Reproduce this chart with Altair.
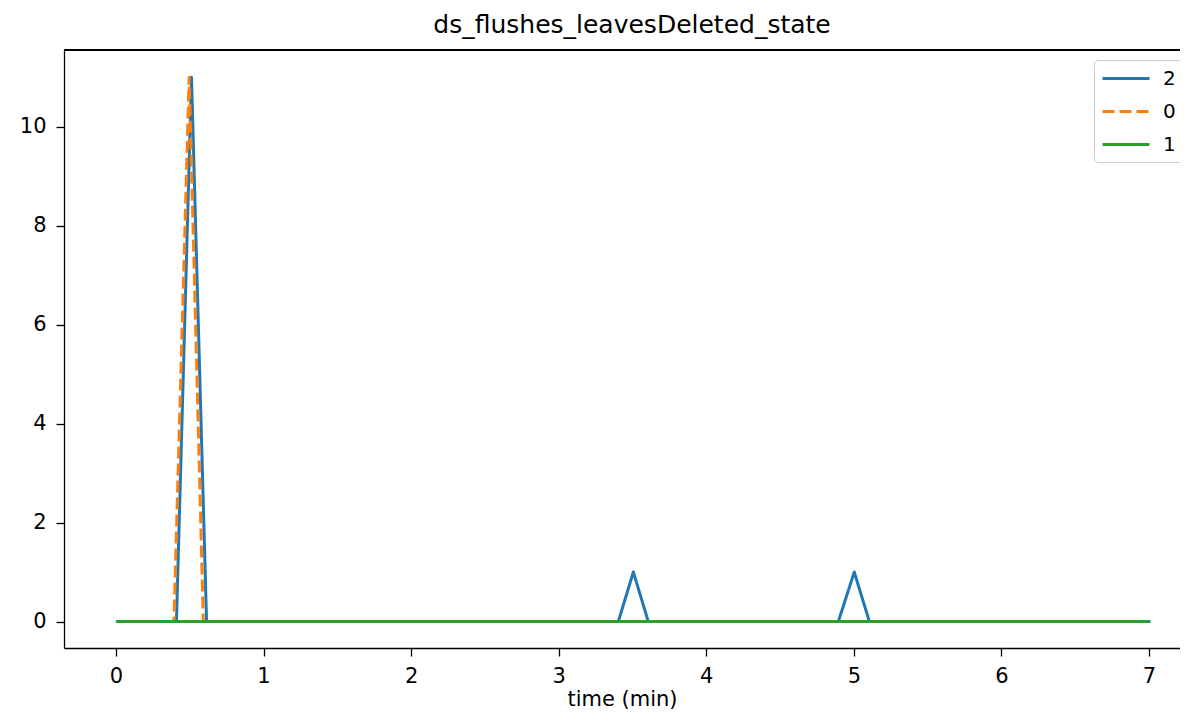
import altair as alt
import pandas as pd

# series vertices (time in minutes, value)
t_2 = [0.0, 0.41, 0.512, 0.614, 3.404, 3.506, 3.607, 4.895, 5.003, 5.105, 7.01]
v_2 = [0, 0, 11, 0, 0, 1, 0, 0, 1, 0, 0]
t_0 = [0.0, 0.393, 0.496, 0.592, 7.0]
v_0 = [0, 0, 11, 0, 0]
t_1 = [0.0, 7.0]
v_1 = [0, 0]

series_order = ["2", "0", "1"]
series_colors = ["#1f77b4", "#ff7f0e", "#2ca02c"]
series_dash = [[1, 0], [12, 5], [1, 0]]
x_ticks = [0, 1, 2, 3, 4, 5, 6, 7]
y_ticks = [0, 2, 4, 6, 8, 10]

rows = []
for name, ts, vs in [("2", t_2, v_2), ("0", t_0, v_0), ("1", t_1, v_1)]:
    for i, (t, v) in enumerate(zip(ts, vs)):
        rows.append({"series": name, "time": t, "value": v, "idx": i})
df = pd.DataFrame(rows)

W, H = 1116, 598
FONT = "DejaVu Sans"

x_enc = alt.X("time:Q", scale=alt.Scale(domain=[-0.352, 7.21], nice=False, zero=False),
              axis=alt.Axis(values=x_ticks, title="time (min)", grid=False, format="d",
                            labelFontSize=21, titleFontSize=21, titleFontWeight="normal",
                            labelFont=FONT, titleFont=FONT, labelColor="black", titleColor="black",
                            tickColor="black", domainColor="black", tickSize=8, tickWidth=1.3,
                            domainWidth=1.3, labelPadding=9, titlePadding=2))
y_enc = alt.Y("value:Q", scale=alt.Scale(domain=[-0.535, 11.55], nice=False, zero=False),
              axis=alt.Axis(values=y_ticks, title=None, grid=False, format="d",
                            labelFontSize=21, labelFont=FONT, labelColor="black",
                            tickColor="black", domainColor="black", tickSize=8, tickWidth=1.3,
                            domainWidth=1.3, labelPadding=10))
color_enc = alt.Color("series:N", scale=alt.Scale(domain=series_order, range=series_colors),
                      legend=alt.Legend(title=None, orient="none", legendX=1030, legendY=10,
                                        symbolType="M-1,0H3.7", symbolSize=400, symbolStrokeWidth=3,
                                        labelFontSize=20, labelFont=FONT, labelColor="black",
                                        labelOffset=39, rowPadding=11, padding=7,
                                        strokeColor="#cccccc", fillColor="white", cornerRadius=4))
dash_enc = alt.StrokeDash("series:N", scale=alt.Scale(domain=series_order, range=series_dash),
                          legend=None)

layers = []
for name in series_order:
    layers.append(
        alt.Chart(df).transform_filter(alt.datum.series == name)
        .mark_line(strokeWidth=3, strokeJoin="round")
        .encode(x=x_enc, y=y_enc, color=color_enc, strokeDash=dash_enc, order="idx:Q")
    )

top_line = alt.Chart(df).mark_rule(color="black", strokeWidth=1.3).encode(
    x=alt.value(0), x2=alt.value(W), y=alt.value(0))

chart = alt.layer(*layers, top_line).properties(
    width=W, height=H,
    title=alt.TitleParams("ds_flushes_leavesDeleted_state", fontSize=25, font=FONT,
                          fontWeight="normal", color="black", baseline="alphabetic",
                          offset=15, dx=10, dy=24),
    padding={"left": 56, "top": 42, "right": 0, "bottom": 61},
    autosize=alt.AutoSizeParams(type="none"),
).configure_view(stroke=None).configure_axis(labelFlush=False)

chart.save("out.html", embed_options={"renderer": "svg", "actions": False})
